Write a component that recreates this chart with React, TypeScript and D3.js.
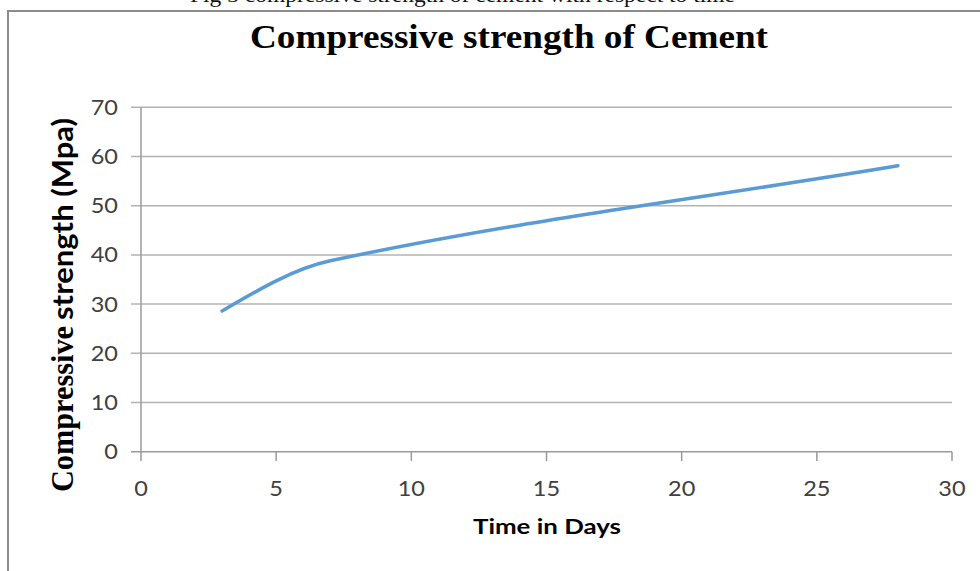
import React from "react";
import * as d3 from "d3";

const days = [3, 7, 28];
const strength = [28.6, 38.8, 58.1];
const xTicks = [0, 5, 10, 15, 20, 25, 30];
const yTicks = [0, 10, 20, 30, 40, 50, 60, 70];

const W = 980;
const H = 571;

// Smoothed line (Hermite, tangents from neighbouring points), drawn through the scales
function smoothPath(
  xs: number[],
  ys: number[],
  sx: d3.ScaleLinear<number, number>,
  sy: d3.ScaleLinear<number, number>
): string {
  const n = xs.length;
  const m: number[] = new Array(n).fill(0);
  for (let i = 1; i < n - 1; i++) m[i] = (ys[i + 1] - ys[i - 1]) / (xs[i + 1] - xs[i - 1]);
  const s0 = (ys[1] - ys[0]) / (xs[1] - xs[0]);
  const sn = (ys[n - 1] - ys[n - 2]) / (xs[n - 1] - xs[n - 2]);
  m[0] = n > 2 ? (3 * s0 - m[1]) / 2 : s0;
  m[n - 1] = sn;
  const p = d3.path();
  p.moveTo(sx(xs[0]), sy(ys[0]));
  for (let i = 0; i < n - 1; i++) {
    const h = xs[i + 1] - xs[i];
    p.bezierCurveTo(
      sx(xs[i] + h / 3),
      sy(ys[i] + (m[i] * h) / 3),
      sx(xs[i + 1] - h / 3),
      sy(ys[i + 1] - (m[i + 1] * h) / 3),
      sx(xs[i + 1]),
      sy(ys[i + 1])
    );
  }
  return p.toString();
}

export default function App() {
  const x = d3.scaleLinear().domain([0, 30]).range([141, 952]);
  const y = d3.scaleLinear().domain([0, 70]).range([451.7, 107.3]);

  const tickFont = "Lato, 'Open Sans', sans-serif";
  return (
    <svg
      width={W}
      height={H}
      style={{ position: "absolute", left: 0, top: 0, display: "block", background: "#fff" }}
    >
      <rect x={0} y={0} width={W} height={H} fill="#fff" />
      {/* clipped caption at top */}
      <text
        x={190}
        y={2}
        fontFamily="'Liberation Serif', 'Times New Roman', serif"
        fontSize={20}
        textLength={545}
        lengthAdjust="spacingAndGlyphs"
        fill="#111"
      >
        Fig 3 compressive strength of cement with respect to time
      </text>
      {/* frame */}
      <path d={`M8,${H} L8,11 L${W},11`} fill="none" stroke="#8c8c8c" strokeWidth={2} />

      {/* title */}
      <text
        x={250}
        y={48}
        fontFamily="'Liberation Serif', 'Times New Roman', serif"
        fontWeight="bold"
        fontSize={34}
        textLength={518}
        lengthAdjust="spacingAndGlyphs"
        fill="#000"
      >
        Compressive strength of Cement
      </text>

      {/* gridlines + y ticks */}
      {yTicks.map((t) => (
        <g key={"y" + t}>
          <line
            x1={131}
            x2={952}
            y1={y(t)}
            y2={y(t)}
            stroke={t === 0 ? "#9a9a9a" : "#b3b3b3"}
            strokeWidth={1.5}
          />
          <text
            transform={`translate(118,${y(t) + 7.5}) scale(1.12,1)`}
            textAnchor="end"
            fontFamily={tickFont}
            fontSize={21}
            fill="#404040"
          >
            {t}
          </text>
        </g>
      ))}
      {/* y axis */}
      <line x1={141} x2={141} y1={107.3} y2={451.7} stroke="#9a9a9a" strokeWidth={1.5} />

      {/* x ticks */}
      {xTicks.map((t) => (
        <g key={"x" + t}>
          <line x1={x(t)} x2={x(t)} y1={451.7} y2={461} stroke="#9a9a9a" strokeWidth={1.5} />
          <text
            transform={`translate(${x(t)},496) scale(1.12,1)`}
            textAnchor="middle"
            fontFamily={tickFont}
            fontSize={21}
            fill="#404040"
          >
            {t}
          </text>
        </g>
      ))}

      {/* data line */}
      <path
        d={smoothPath(days, strength, x, y)}
        fill="none"
        stroke="#5b9bd5"
        strokeWidth={3.5}
        strokeLinecap="round"
        strokeLinejoin="round"
      />

      {/* x axis title */}
      <text
        x={473}
        y={534}
        fontFamily={tickFont}
        fontWeight="bold"
        fontSize={21}
        textLength={148}
        lengthAdjust="spacingAndGlyphs"
        fill="#000"
      >
        Time in Days
      </text>

      {/* y axis title (mixed fonts) */}
      <text
        transform="translate(73,492) rotate(-90)"
        fontFamily="'Liberation Serif', 'Times New Roman', serif"
        fontWeight="bold"
        fontSize={32}
        textLength={166}
        lengthAdjust="spacingAndGlyphs"
        fill="#000"
      >
        Compressive
      </text>
      <text
        transform="translate(73,320) rotate(-90)"
        fontFamily={tickFont}
        fontWeight="bold"
        fontSize={29}
        textLength={202}
        lengthAdjust="spacingAndGlyphs"
        fill="#000"
      >
        strength (Mpa)
      </text>
    </svg>
  );
}
